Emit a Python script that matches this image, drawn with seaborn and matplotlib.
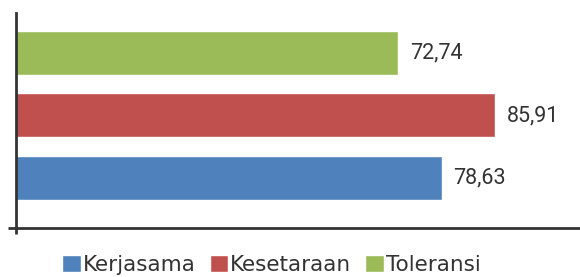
import matplotlib
matplotlib.use("Agg")
import matplotlib.pyplot as plt
import seaborn as sns
import pandas as pd
from matplotlib.patches import Patch
from matplotlib import font_manager

# Data (top to bottom as drawn)
categories = ["Toleransi", "Kesetaraan", "Kerjasama"]
values = [72.74, 85.91, 78.63]
legend_order = ["Kerjasama", "Kesetaraan", "Toleransi"]
colors = {"Kerjasama": "#4F81BD", "Kesetaraan": "#C0504D", "Toleransi": "#9BBB59"}

df = pd.DataFrame({"kategori": categories, "nilai": values})

sns.set_style("white")
plt.rcParams["font.family"] = ["DejaVu Sans"]

names = {f.name for f in font_manager.fontManager.ttflist}
num_font = "Liberation Sans Narrow" if "Liberation Sans Narrow" in names else "Roboto"

W, H = 580, 277
fig = plt.figure(figsize=(W / 100, H / 100), dpi=100)
ax = fig.add_axes([16 / W, (H - 228) / H, (W - 16) / W, (228 - 13) / H])

sns.barplot(data=df, x="nilai", y="kategori", hue="kategori", order=categories,
            palette=colors, width=0.7, legend=False, ax=ax, saturation=1)

xmin, xmax = 20.9, 97.4
ax.set_xlim(xmin, xmax)
ax.set_ylim(2.79, -0.63)

# value labels
for i, v in enumerate(values):
    ax.annotate(f"{v:.2f}".replace(".", ","), xy=(v, i), xytext=(8.6, 0),
                textcoords="offset points", va="center", ha="left",
                fontsize=15.5, color="#333333", family=num_font)

for s in ["top", "right"]:
    ax.spines[s].set_visible(False)
for s in ["left", "bottom"]:
    ax.spines[s].set_color("#333333")
    ax.spines[s].set_linewidth(2)

ax.set_xticks([xmin])
ax.set_xticklabels([])
ax.set_yticks([2.79])
ax.set_yticklabels([])
ax.tick_params(axis="x", length=4.3, width=2, color="#333333", direction="out", bottom=True)
ax.tick_params(axis="y", length=5.8, width=2, color="#333333", direction="out", left=True)
ax.set_xlabel("")
ax.set_ylabel("")

handles = [Patch(facecolor=colors[c], label=c) for c in legend_order]
fig.legend(handles=handles, loc="center", bbox_to_anchor=(271.5 / W, 1 - 265 / H),
           ncol=3, frameon=False, fontsize=15.5, handlelength=0.85, handleheight=0.85,
           handletextpad=0.1, columnspacing=0.65, labelcolor="#333333")

fig.savefig("out.png", dpi=100)
